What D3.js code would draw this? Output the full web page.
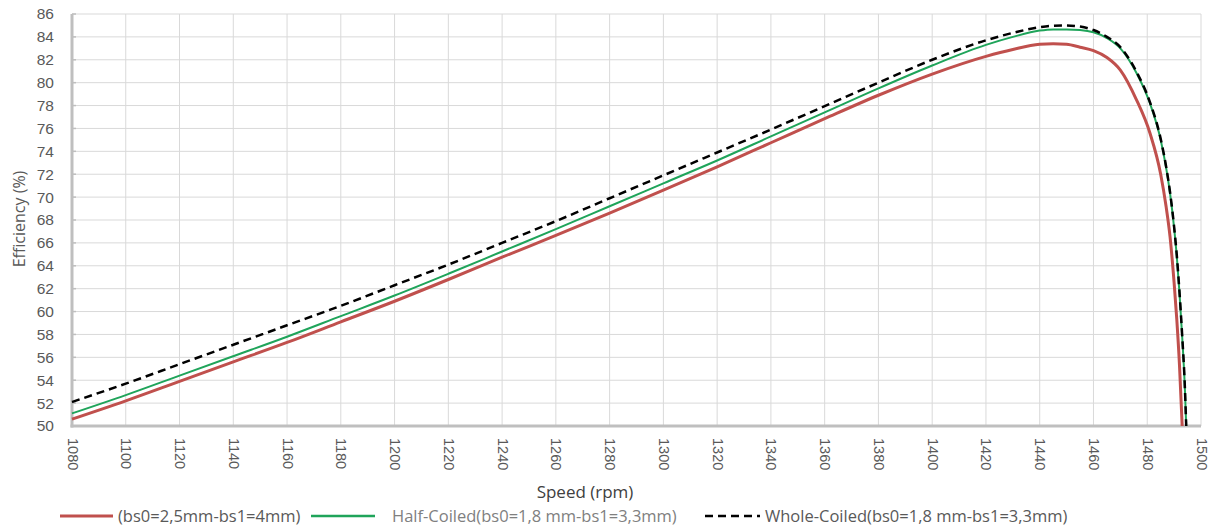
<!DOCTYPE html>
<html><head><meta charset="utf-8">
<script src="https://cdnjs.cloudflare.com/ajax/libs/d3/7.8.5/d3.min.js"></script>
<style>body{margin:0;background:#fff;} svg{display:block;font-family:"Open Sans","Noto Sans",sans-serif;}</style>
</head><body><svg id="c" width="1210" height="531"></svg>
<script>
const speeds = [1080,1100,1120,1140,1160,1180,1200,1220,1240,1260,1280,1300,1320,1340,1360,1380,1400,1420,1430,1440,1445,1450,1455,1460,1465,1470,1476,1481,1485,1487,1488.5,1490,1491,1492,1493,1494,1494.5];
const redVals = [50.6,52.2,53.9,55.6,57.3,59.1,60.9,62.8,64.75,66.65,68.6,70.6,72.65,74.75,76.85,78.9,80.75,82.3,82.9,83.35,83.4,83.35,83.1,82.8,82.2,81.1,78.5,75.6,72.0,69.2,66.5,62.5,59.3,55.3,50.0,null,null];
const greenVals = [51.1,52.7,54.4,56.1,57.8,59.6,61.4,63.3,65.25,67.2,69.2,71.2,73.2,75.3,77.4,79.5,81.5,83.3,84.0,84.55,84.65,84.65,84.6,84.4,83.9,83.0,80.85,78.2,75.0,72.6,70.3,67.3,64.8,61.6,57.8,53.3,50.0];
const blackVals = [52.1,53.7,55.4,57.1,58.8,60.5,62.3,64.1,66.0,67.9,69.9,71.9,73.9,75.9,77.95,80.0,82.0,83.7,84.35,84.85,84.98,85.0,84.9,84.6,84.0,83.1,80.95,78.3,75.1,72.7,70.4,67.4,64.9,61.7,57.9,53.4,50.0];
const xTicks = d3.range(1080, 1501, 20);
const yTicks = d3.range(50, 87, 2);
const seriesNames = ["(bs0=2,5mm-bs1=4mm)", "Half-Coiled(bs0=1,8 mm-bs1=3,3mm)", "Whole-Coiled(bs0=1,8 mm-bs1=3,3mm)"];

const svg = d3.select("#c");
const L = 72, R = 1201, T = 14, B = 426;
const x = d3.scaleLinear().domain([1080, 1500]).range([L, R]);
const y = d3.scaleLinear().domain([50, 86]).range([B, T]);

// grid
svg.append("g").selectAll("line").data(yTicks).join("line")
  .attr("x1", L).attr("x2", R).attr("y1", d => y(d)).attr("y2", d => y(d))
  .attr("stroke", "#d9d9d9").attr("stroke-width", 1);
svg.append("g").selectAll("line").data(xTicks).join("line")
  .attr("y1", T).attr("y2", B).attr("x1", d => x(d)).attr("x2", d => x(d))
  .attr("stroke", "#d9d9d9").attr("stroke-width", 1);

// axes
const yAxis = svg.append("g").attr("transform", `translate(${L},0)`)
  .call(d3.axisLeft(y).tickValues(yTicks).tickSize(0).tickPadding(18).tickFormat(d3.format("d")));
yAxis.select(".domain").remove();
yAxis.selectAll("text").attr("fill", "#595959").style("font-size", "15.5px");

const xAxis = svg.append("g").attr("transform", `translate(0,${B})`)
  .call(d3.axisBottom(x).tickValues(xTicks).tickSize(0).tickFormat(d3.format("d")));
xAxis.select(".domain").remove();
xAxis.selectAll("text").attr("fill", "#595959").style("font-size", "14.5px")
  .attr("text-anchor", "start").attr("dy", null).attr("y", 0)
  .attr("transform", "translate(-5,12) rotate(90)");

svg.append("line").attr("x1", L).attr("x2", L).attr("y1", T).attr("y2", B + 1.5)
  .attr("stroke", "#bfbfbf").attr("stroke-width", 3);
svg.append("line").attr("x1", L - 1.5).attr("x2", R).attr("y1", B).attr("y2", B)
  .attr("stroke", "#bfbfbf").attr("stroke-width", 3);
svg.append("g").selectAll("line").data(yTicks).join("line")
  .attr("x1", L).attr("x2", L + 4).attr("y1", d => y(d)).attr("y2", d => y(d))
  .attr("stroke", "#bfbfbf").attr("stroke-width", 1.5);

// lines
const mk = vals => speeds.map((s, i) => ({s, v: vals[i]})).filter(d => d.v != null);
const line = d3.line().x(d => x(d.s)).y(d => y(d.v)).curve(d3.curveMonotoneX);
const g = svg.append("g");
g.append("path").attr("d", line(mk(redVals))).attr("fill", "none").attr("stroke", "#c0504d").attr("stroke-width", 3);
g.append("path").attr("d", line(mk(greenVals))).attr("fill", "none").attr("stroke", "#1fa45a").attr("stroke-width", 2);
g.append("path").attr("d", line(mk(blackVals))).attr("fill", "none").attr("stroke", "#000").attr("stroke-width", 2.5).attr("stroke-dasharray", "8,5");

// titles
svg.append("text").attr("x", 585).attr("y", 498).attr("text-anchor", "middle")
  .attr("fill", "#404040").style("font-size", "17px").text("Speed (rpm)");
svg.append("text").attr("transform", "translate(25,219) rotate(-90)").attr("text-anchor", "middle")
  .attr("fill", "#595959").style("font-size", "16px").text("Efficiency (%)");

// legend
const leg = [
  {x1: 60, x2: 113, tx: 118, color: "#c0504d", w: 3, dash: null, tc: "#595959"},
  {x1: 311, x2: 375, tx: 392, color: "#1fa45a", w: 2.5, dash: null, tc: "#808080"},
  {x1: 705, x2: 760, tx: 765, color: "#000", w: 2.5, dash: "8,5", tc: "#595959"}
];
leg.forEach((d, i) => {
  svg.append("line").attr("x1", d.x1).attr("x2", d.x2).attr("y1", 516).attr("y2", 516)
    .attr("stroke", d.color).attr("stroke-width", d.w).attr("stroke-dasharray", d.dash);
  svg.append("text").attr("x", d.tx).attr("y", 522).attr("fill", d.tc).style("font-size", "16.5px").text(seriesNames[i]);
});
</script></body></html>
